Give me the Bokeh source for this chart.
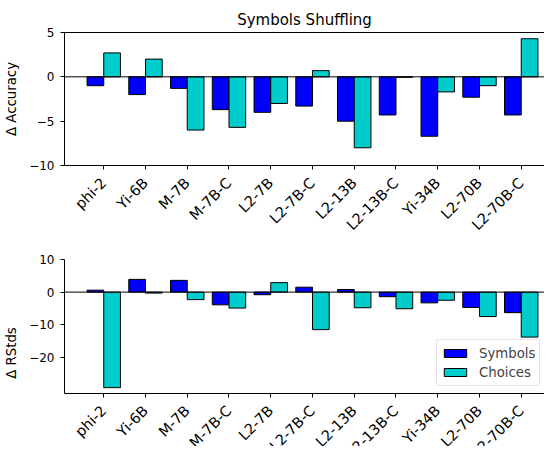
import math
from bokeh.plotting import figure
from bokeh.models import (ColumnDataSource, Range1d, Span, FixedTicker, Legend,
                          LegendItem, LinearAxis)
from bokeh.layouts import column
from bokeh.embed import file_html
from bokeh.resources import INLINE

models = ["phi-2", "Yi-6B", "M-7B", "M-7B-C", "L2-7B", "L2-7B-C",
          "L2-13B", "L2-13B-C", "Yi-34B", "L2-70B", "L2-70B-C"]
acc_symbols = [-1.0, -2.0, -1.3, -3.7, -4.0, -3.3, -5.0, -4.3, -6.7, -2.3, -4.3]
acc_choices = [2.7, 2.0, -6.0, -5.7, -3.0, 0.7, -8.0, -0.05, -1.7, -1.0, 4.3]
rstd_symbols = [0.6, 3.9, 3.6, -3.9, -0.8, 1.5, 0.8, -1.4, -3.3, -4.7, -6.3]
rstd_choices = [-29.3, -0.3, -2.3, -4.9, 2.9, -11.5, -4.8, -5.1, -2.5, -7.5, -13.8]

acc_ticks = [-10, -5, 0, 5]
acc_lim = (-10, 5)
rstd_ticks = [-20, -10, 0, 10]
rstd_lim = (-31, 10)

BLUE = "#0000ff"
CYAN = "#00cccc"
FONT = "DejaVu Sans"
BAR_W = 0.4

# layout numbers (pixels)
W = 544
FRAME_L = 64
FRAME_W = W - FRAME_L
PX_PER_CAT = 41.75
X_START = -0.94
X_END = X_START + FRAME_W / PX_PER_CAT

H1, H2 = 245, 201
B2_TOP = 14
VIS_H2 = 133.7          # visible plot height of the lower panel
FRAME_H2 = H2 - B2_TOP  # the lower frame runs to the canvas bottom
lo2 = rstd_lim[1] - (rstd_lim[1] - rstd_lim[0]) * FRAME_H2 / VIS_H2

idx = list(range(len(models)))


def minus(v):
    return str(v).replace("-", "\u2212")


def style(p, ticks, ylabel):
    p.xgrid.visible = False
    p.ygrid.visible = False
    p.outline_line_color = None
    p.background_fill_color = "white"
    p.border_fill_color = "white"
    for ax in (p.xaxis[0], p.yaxis[0]):
        ax.axis_line_color = "black"
        ax.axis_line_width = 1
        ax.major_tick_line_color = "black"
        ax.major_tick_out = 4
        ax.major_tick_in = 0
        ax.minor_tick_line_color = None
        ax.major_label_text_font = FONT
        ax.major_label_text_color = "black"
    p.xaxis.ticker = FixedTicker(ticks=idx)
    p.xaxis.major_label_overrides = {i: m for i, m in zip(idx, models)}
    p.xaxis.major_label_orientation = math.pi / 4
    p.xaxis.major_label_text_font_size = "14.5px"
    p.xaxis.major_label_standoff = 11
    p.yaxis.ticker = FixedTicker(ticks=ticks)
    p.yaxis.major_label_overrides = {t: minus(t) for t in ticks}
    p.yaxis.major_label_text_font_size = "12px"
    p.yaxis.major_label_standoff = 6
    p.yaxis.axis_label = ylabel
    p.yaxis.axis_label_text_font = FONT
    p.yaxis.axis_label_text_font_size = "13.3px"
    p.yaxis.axis_label_text_font_style = "normal"
    p.yaxis.axis_label_text_color = "black"
    p.yaxis.axis_label_standoff = 7
    top = LinearAxis(ticker=FixedTicker(ticks=[]), axis_line_color="black",
                     axis_line_width=1, major_tick_line_color=None,
                     minor_tick_line_color=None)
    p.add_layout(top, "above")
    p.add_layout(Span(location=0, dimension="width", line_color="black", line_width=1))


def bars(p, src):
    r1 = p.vbar(x="xs", top="s", bottom=0, width=BAR_W, source=src,
                fill_color=BLUE, line_color="black", line_width=1)
    r2 = p.vbar(x="xc", top="c", bottom=0, width=BAR_W, source=src,
                fill_color=CYAN, line_color="black", line_width=1)
    return r1, r2


xs = [i - BAR_W / 2 for i in idx]
xc = [i + BAR_W / 2 for i in idx]
src_top = ColumnDataSource(dict(xs=xs, xc=xc, s=acc_symbols, c=acc_choices))
src_bot = ColumnDataSource(dict(xs=xs, xc=xc, s=rstd_symbols, c=rstd_choices))

p1 = figure(width=W, height=H1, x_range=Range1d(X_START, X_END),
            y_range=Range1d(*acc_lim), output_backend="svg", toolbar_location=None,
            min_border_left=FRAME_L, min_border_right=0, min_border_top=32,
            min_border_bottom=80, title="Symbols Shuffling")
p1.title.align = "center"
p1.title.text_font = FONT
p1.title.text_font_size = "15px"
p1.title.text_font_style = "normal"
p1.title.text_color = "black"
p1.title.standoff = 7
bars(p1, src_top)
style(p1, acc_ticks, "\u0394 Accuracy")

p2 = figure(width=W, height=H2, x_range=Range1d(X_START, X_END),
            y_range=Range1d(lo2, rstd_lim[1]), output_backend="svg", toolbar_location=None,
            min_border_left=FRAME_L, min_border_right=0, min_border_top=B2_TOP,
            min_border_bottom=0)
r1, r2 = bars(p2, src_bot)
style(p2, rstd_ticks, "\u0394 RStds")
p2.xaxis.fixed_location = rstd_lim[0]
p2.yaxis.bounds = rstd_lim

leg = Legend(items=[LegendItem(label="Symbols", renderers=[r1]),
                    LegendItem(label="Choices", renderers=[r2])],
             location=(372, 60))
leg.label_text_font = FONT
leg.label_text_font_size = "13.3px"
leg.glyph_width = 28
leg.glyph_height = 10
leg.label_height = 18
leg.spacing = 1
leg.padding = 4
leg.margin = 0
leg.label_standoff = 10
leg.border_line_color = "#cccccc"
leg.background_fill_alpha = 0.8
p2.add_layout(leg)

layout = column(p1, p2, spacing=0)
open("out.html", "w").write(file_html(layout, INLINE))
